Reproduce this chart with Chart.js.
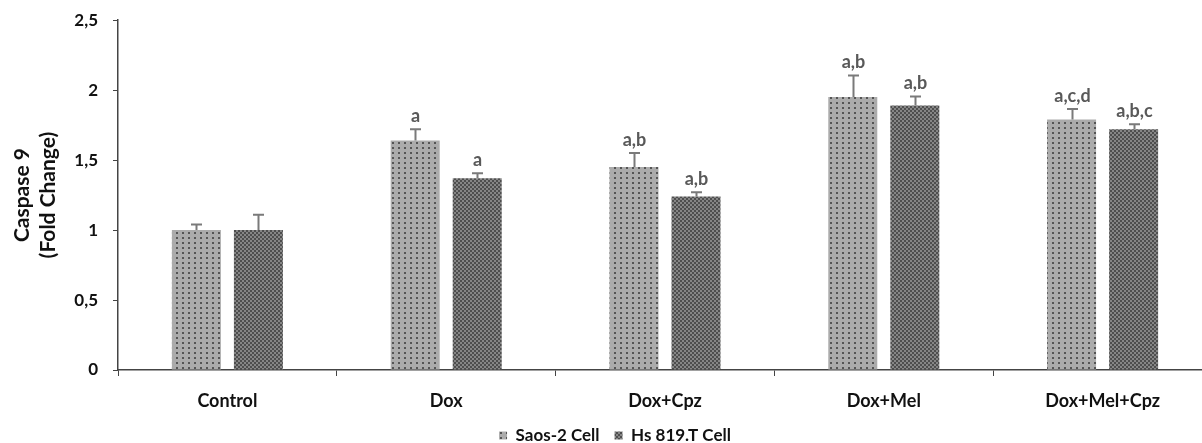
<!DOCTYPE html>
<html>
<head>
<meta charset="utf-8">
<script src="https://cdn.jsdelivr.net/npm/chart.js@4.4.1/dist/chart.umd.min.js"></script>
<style>
  html, body { margin: 0; padding: 0; background: #fff; overflow: hidden; width: 1202px; height: 443px; }
  canvas { display: block; }
</style>
</head>
<body>
<canvas id="c" width="1212" height="443"></canvas>
<script>
// Caspase 9 fold change per treatment, two cell lines
const categories = ['Control', 'Dox', 'Dox+Cpz', 'Dox+Mel', 'Dox+Mel+Cpz'];
const saosValues = [1.00, 1.64, 1.45, 1.95, 1.79];
const saosErrors = [0.04, 0.08, 0.10, 0.155, 0.075];
const saosLetters = ['', 'a', 'a,b', 'a,b', 'a,c,d'];
const hsValues = [1.00, 1.37, 1.24, 1.89, 1.72];
const hsErrors = [0.11, 0.035, 0.03, 0.065, 0.035];
const hsLetters = ['', 'a', 'a,b', 'a,b', 'a,b,c'];
const yTicks = [0, 0.5, 1, 1.5, 2, 2.5];

const FONT = 'Lato, "Open Sans", sans-serif';

// Dotted fills for the two series
function dotPattern(bg, dot, w, h, dots, size) {
  const t = document.createElement('canvas');
  t.width = w; t.height = h;
  const g = t.getContext('2d');
  g.fillStyle = bg;
  g.fillRect(0, 0, w, h);
  g.fillStyle = dot;
  dots.forEach(([x, y]) => g.fillRect(x, y, size, size));
  return document.getElementById('c').getContext('2d').createPattern(t, 'repeat');
}
const saosFill = dotPattern('#ababab', '#555555', 6, 5, [[2, 2]], 2);
const hsFill = dotPattern('#868686', '#4e4e4e', 4, 4, [[0, 0], [2, 2]], 2);

// Error bars (upper whisker only) and significance letters
const errorBars = {
  id: 'errorBars',
  afterDatasetsDraw(chart) {
    const ctx = chart.ctx;
    const y = chart.scales.y;
    const sets = [
      { values: saosValues, errors: saosErrors, letters: saosLetters },
      { values: hsValues, errors: hsErrors, letters: hsLetters }
    ];
    ctx.save();
    sets.forEach((s, di) => {
      const meta = chart.getDatasetMeta(di);
      meta.data.forEach((bar, i) => {
        const x = Math.round(bar.x) + 0.5;
        const top = y.getPixelForValue(s.values[i]);
        const hi = y.getPixelForValue(s.values[i] + s.errors[i]);
        ctx.strokeStyle = '#7a7a7a';
        ctx.lineWidth = 2;
        ctx.beginPath();
        ctx.moveTo(x, top);
        ctx.lineTo(x, hi);
        ctx.moveTo(x - 5.5, hi);
        ctx.lineTo(x + 5.5, hi);
        ctx.stroke();
        if (s.letters[i]) {
          ctx.fillStyle = '#595959';
          ctx.font = 'bold 18px ' + FONT;
          ctx.textAlign = 'center';
          ctx.textBaseline = 'middle';
          ctx.fillText(s.letters[i], x, hi - 13);
        }
      });
    });
    ctx.restore();
  }
};

new Chart(document.getElementById('c'), {
  type: 'bar',
  data: {
    labels: categories,
    datasets: [
      { label: 'Saos-2 Cell', data: saosValues, backgroundColor: saosFill, borderWidth: 0,
        categoryPercentage: 0.567, barPercentage: 0.79 },
      { label: 'Hs 819.T Cell', data: hsValues, backgroundColor: hsFill, borderWidth: 0,
        categoryPercentage: 0.567, barPercentage: 0.79 }
    ]
  },
  options: {
    responsive: false,
    animation: false,
    devicePixelRatio: 1,
    layout: { padding: { top: 20, right: 0, bottom: -11, left: 18 } },
    scales: {
      x: {
        grid: { display: true, drawOnChartArea: false, drawTicks: true, tickLength: 6, offset: true, color: '#444', lineWidth: 1 },
        border: { display: true, color: '#444', width: 1.5 },
        ticks: { font: { family: FONT, weight: 'bold', size: 18 }, color: '#111', padding: 14 },
        afterFit(s) { s.height = 42; }
      },
      y: {
        min: 0, max: 2.5,
        afterBuildTicks(s) { s.ticks = yTicks.map(v => ({ value: v })); },
        grid: { drawOnChartArea: false, tickLength: 5, color: '#444' },
        border: { display: true, color: '#444', width: 1.5 },
        ticks: { font: { family: FONT, weight: 'bold', size: 17, lineHeight: 0.6 }, color: '#111', padding: 15,
          callback: v => String(v).replace('.', ',') },
        title: { display: true, text: ['Caspase 9', '(Fold Change)'],
          font: { family: FONT, weight: 'bold', size: 21, lineHeight: 1.2 }, color: '#111',
          padding: { top: -8, bottom: 0 } },
        afterFit(s) { s.width = 100; }
      }
    },
    plugins: {
      legend: {
        position: 'bottom',
        labels: { boxWidth: 8, boxHeight: 8, font: { family: FONT, weight: 'bold', size: 17 }, color: '#111', padding: 15 }
      },
      tooltip: { enabled: false }
    }
  },
  plugins: [errorBars]
});
</script>
</body>
</html>
